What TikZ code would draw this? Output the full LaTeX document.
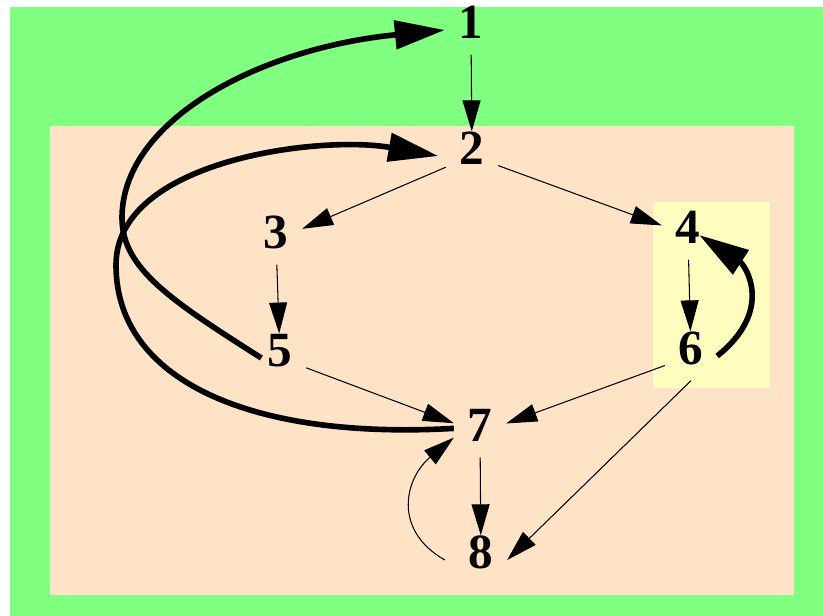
\documentclass[tikz,border=0pt]{standalone}
\usepackage{fontspec}
\setmainfont{Liberation Serif}
\usetikzlibrary{arrows.meta}

\begin{document}
\begin{tikzpicture}[x=0.02cm,y=-0.02cm,
  every node/.style={font=\fontsize{28}{30}\selectfont\bfseries,inner xsep=0.27cm,inner ysep=0pt,text depth=0.32cm},
  lite/.style={line width=0.6pt,-{Triangle[length=0.62cm,width=0.36cm]}},
  heavy/.style={line width=3.2pt,-{Triangle[length=1cm,width=0.56cm]}}]
\useasboundingbox (0,0) rectangle (823,616);
\fill[white] (0,0) rectangle (823,616);
\fill[green!50] (10,7) rectangle (823,616);
\fill[orange!22] (50,126) rectangle (794,595);
\fill[yellow!25] (653,202) rectangle (770,388);
\node (a) at (471,30) {1};
\node (b) at (472,156) {2};
\node (c) at (276,240) {3};
\node (d) at (688,235) {4};
\node (e) at (280,358) {5};
\node (f) at (691,356) {6};
\node (g) at (480,433) {7};
\node (h) at (481,560) {8};
\draw[lite] (a)--(b); \draw[lite] (b)--(c); \draw[lite] (b)--(d);
\draw[lite] (c)--(e); \draw[lite] (d)--(f); \draw[lite] (e)--(g);
\draw[lite] (f)--(g); \draw[lite] (f.south)--(h.east); \draw[lite] (g)--(h);
\draw[lite] ([xshift=-0.2cm]h.west) .. controls (392,530) and (405,478) .. (g.190);
% heavy back arcs
\draw[heavy] ([xshift=0.15cm]e.west) .. controls (170,300) and (122,268) .. (122,218) .. controls (122,120) and (260,48) .. (a.west);
\draw[heavy] (g.170) .. controls (250,440) and (116,380) .. (116,265) .. controls (116,160) and (320,135) .. ([xshift=-0.15cm]b.west);
\draw[heavy] (f.east) .. controls (775,310) and (745,265) .. ([xshift=-0.3cm]d.east);
\end{tikzpicture}
\end{document}
